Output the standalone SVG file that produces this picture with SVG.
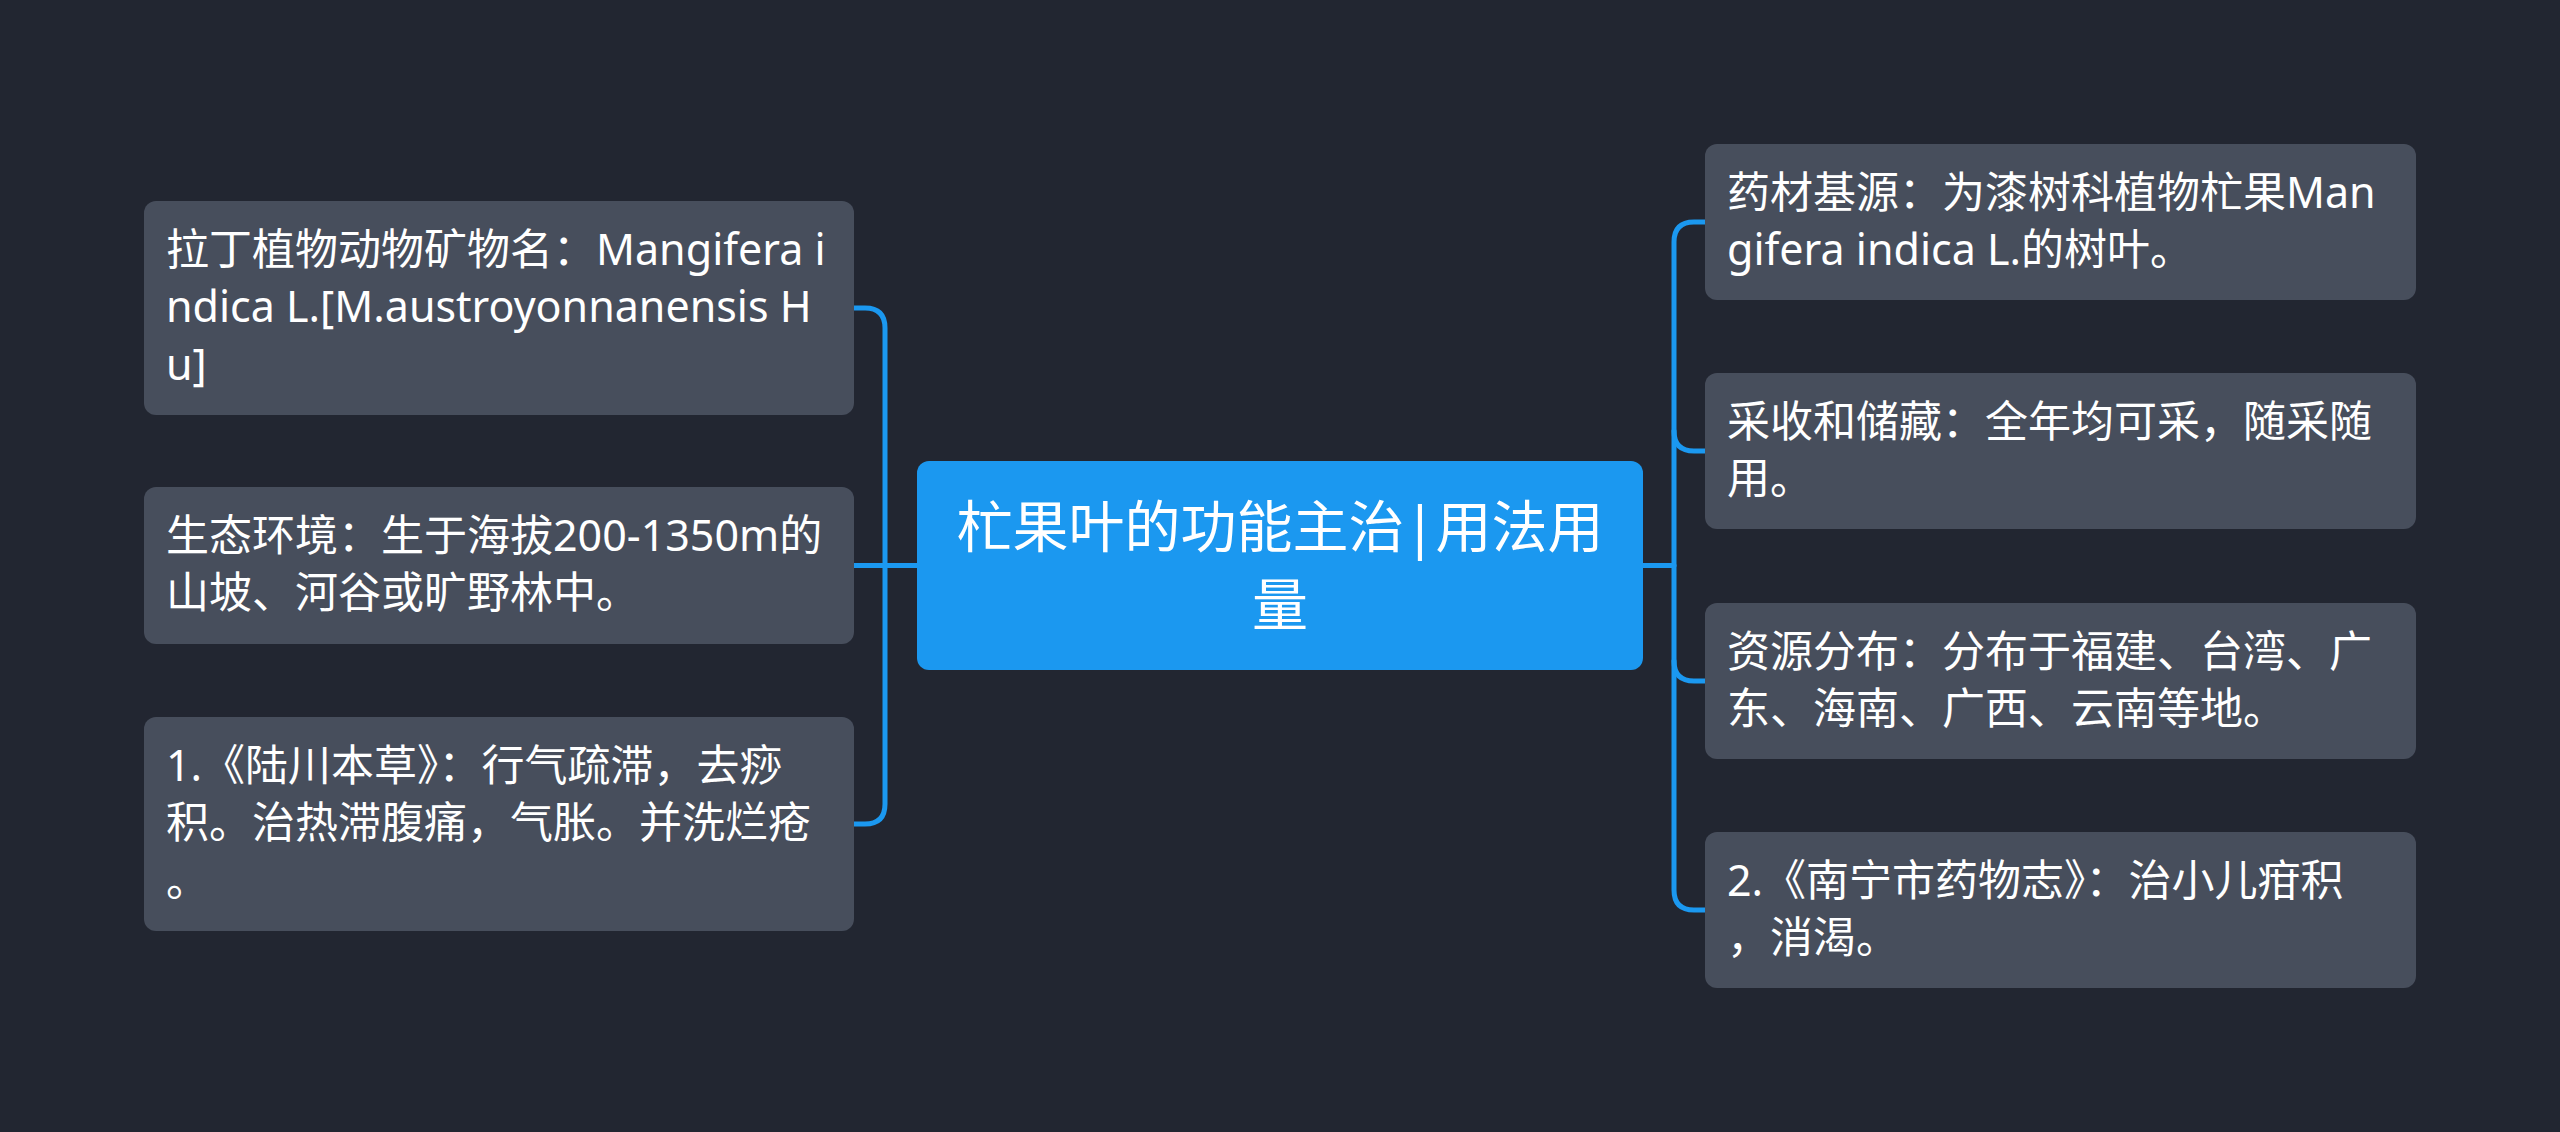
<svg xmlns="http://www.w3.org/2000/svg" width="2560" height="1132" viewBox="0 0 2560 1132">
<style>
.bg{fill:#222631}
.node{fill:#474e5c}
.root{fill:#1b98f0}
.t{font-family:"Noto Sans","Noto Sans CJK SC",sans-serif;font-size:43px;fill:#ffffff}
.rt{font-family:"Noto Sans","Noto Sans CJK SC",sans-serif;font-size:56px;fill:#ffffff;text-anchor:middle}
.c{fill:none;stroke:#1b98f0;stroke-width:5;stroke-linecap:round;stroke-linejoin:round}
</style>
<rect class="bg" x="0" y="0" width="2560" height="1132"/>
<g id="connectors">
<path class="c" d="M917 565.5 H854"/>
<path class="c" d="M854 308 H865 Q885 308 885 328 V804 Q885 824 865 824 H854"/>
<path class="c" d="M1643 565.5 H1674"/>
<path class="c" d="M1705 222 H1694 Q1674 222 1674 242 V890 Q1674 910 1694 910 H1705"/>
<path class="c" d="M1674 431 Q1674 451 1694 451 H1705"/>
<path class="c" d="M1674 661 Q1674 681 1694 681 H1705"/>
</g>
<g id="root">
<rect class="root" x="917" y="461" width="726" height="209" rx="12"/>
<text class="rt" x="1280" y="547">杧果叶的功能主治|用法用</text>
<text class="rt" x="1280" y="625">量</text>
</g>
<g id="left1">
<rect class="node" x="144" y="201" width="710" height="214" rx="12"/>
<text class="t"><tspan x="166" y="265">拉丁植物动物矿物名：Mangifera i</tspan><tspan x="166" y="322">ndica L.[M.austroyonnanensis H</tspan><tspan x="166" y="380">u]</tspan></text>
</g>
<g id="left2">
<rect class="node" x="144" y="487" width="710" height="157" rx="12"/>
<text class="t"><tspan x="166" y="551">生态环境：生于海拔200-1350m的</tspan><tspan x="166" y="608">山坡、河谷或旷野林中。</tspan></text>
</g>
<g id="left3">
<rect class="node" x="144" y="717" width="710" height="214" rx="12"/>
<text class="t"><tspan x="166" y="781">1.《陆川本草》：行气疏滞，去痧</tspan><tspan x="166" y="838">积。治热滞腹痛，气胀。并洗烂疮</tspan><tspan x="166" y="896">。</tspan></text>
</g>
<g id="right1">
<rect class="node" x="1705" y="144" width="711" height="156" rx="12"/>
<text class="t"><tspan x="1727" y="208">药材基源：为漆树科植物杧果Man</tspan><tspan x="1727" y="265">gifera indica L.的树叶。</tspan></text>
</g>
<g id="right2">
<rect class="node" x="1705" y="373" width="711" height="156" rx="12"/>
<text class="t"><tspan x="1727" y="437">采收和储藏：全年均可采，随采随</tspan><tspan x="1727" y="494">用。</tspan></text>
</g>
<g id="right3">
<rect class="node" x="1705" y="603" width="711" height="156" rx="12"/>
<text class="t"><tspan x="1727" y="667">资源分布：分布于福建、台湾、广</tspan><tspan x="1727" y="724">东、海南、广西、云南等地。</tspan></text>
</g>
<g id="right4">
<rect class="node" x="1705" y="832" width="711" height="156" rx="12"/>
<text class="t"><tspan x="1727" y="896">2.《南宁市药物志》：治小儿疳积</tspan><tspan x="1727" y="953">，消渴。</tspan></text>
</g>
</svg>
